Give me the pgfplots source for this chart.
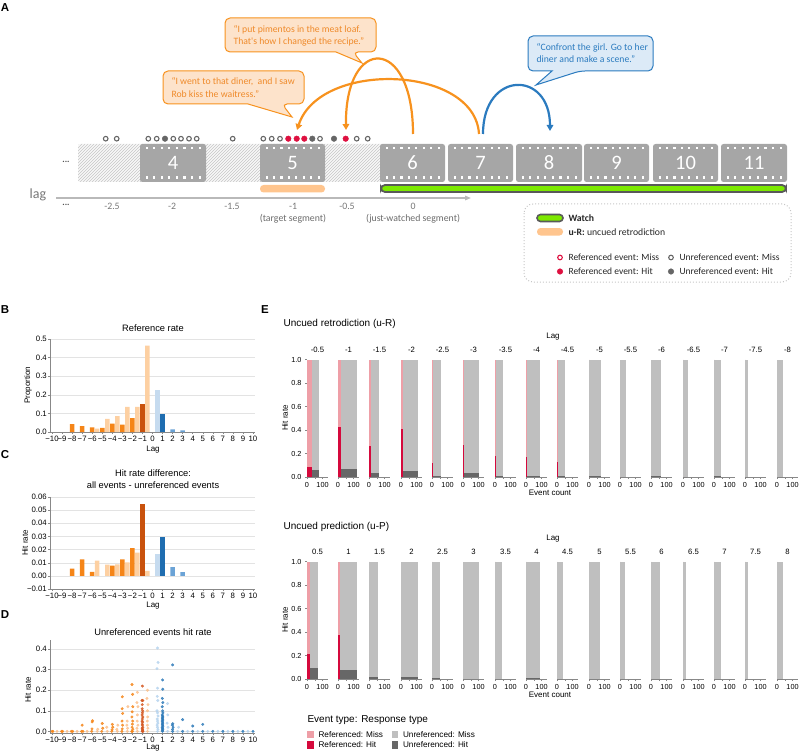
\documentclass[border=0pt]{standalone}
\usepackage{pgfplots}
\pgfplotsset{compat=1.18}
\usepackage{fontspec}
\setmainfont{Liberation Sans}
\newfontfamily\cali{Carlito}
\usetikzlibrary{patterns,arrows.meta}

\definecolor{axgray}{HTML}{888888}
\definecolor{gridgray}{HTML}{E3E3E3}
\definecolor{oint}{HTML}{F58518}
\definecolor{odark}{HTML}{C9520D}
\definecolor{olight}{HTML}{FDD0A2}
\definecolor{blight}{HTML}{C6DBEF}
\definecolor{bdark}{HTML}{1F6DB0}
\definecolor{bmid}{HTML}{6BA3D6}
\definecolor{dodark}{HTML}{D4561F}
\definecolor{dolight}{HTML}{FBC08C}
\definecolor{dblight}{HTML}{B5D3EE}
\definecolor{dblue}{HTML}{2C79B8}
\definecolor{refmiss}{HTML}{EE9FA7}
\definecolor{refhit}{HTML}{D5093C}
\definecolor{unmiss}{HTML}{BFBFBF}
\definecolor{unhit}{HTML}{676767}
\definecolor{framegray}{HTML}{A6A6A6}
\definecolor{lime}{HTML}{7CE800}
\definecolor{peach}{HTML}{FFC58E}
\definecolor{aorange}{HTML}{F7921E}
\definecolor{cofill}{HTML}{FDE3CB}
\definecolor{cotext}{HTML}{EF8A2A}
\definecolor{ablue}{HTML}{2B7BBF}
\definecolor{cbfill}{HTML}{DCEAF7}
\definecolor{evgray}{HTML}{666666}
\definecolor{evred}{HTML}{DE1040}
\definecolor{lagray}{HTML}{777777}

\newcommand{\fsz}[1]{\fontsize{#1}{#1}\selectfont}

\pgfplotsset{
  vbase/.style={scale only axis, anchor=south west, axis lines*=left,
    axis line style={draw=axgray, line width=0.5pt}, tick align=outside,
    major tick length=2pt, minor tick length=1.5pt,
    tick style={draw=axgray, line width=0.4pt},
    tick label style={font=\fsz{7.8pt}},
    /pgf/number format/assume math mode=true, clip=false},
  bcd/.style={vbase, width=205pt, xmin=-10.2, xmax=10.2, xtick={-10,...,10},
    xticklabels={−10,−9,−8,−7,−6,−5,−4,−3,−2,−1,0,1,2,3,4,5,6,7,8,9,10},
    ymajorgrids, grid style={draw=gridgray, line width=0.4pt},
    xticklabel style={inner xsep=0pt, yshift=1pt}, yticklabel style={inner xsep=1pt},
    scaled y ticks=false},
  bb/.style={ybar, bar width=4.5pt, bar shift=0pt, draw=none},
  dm/.style={only marks, mark=*, mark size=1.3pt, color=#1, opacity=0.8},
  ep/.style={vbase, width=21pt, height=117.5pt, xmin=0, xmax=135, ymin=0, ymax=1,
    xtick={0,100}, minor xtick={50}, ytick=\empty,
    tick label style={font=\fsz{7.3pt}},
    y axis line style={draw=none}},
  epy/.style={ytick={0,0.2,0.4,0.6,0.8,1}, y axis line style={draw=axgray},
    yticklabel style={/pgf/number format/.cd, fixed, fixed zerofill, precision=1}},
}

% left, bottom, lag label, n referenced, referenced hit rate, total count, unreferenced hit rate, options
\newcommand{\EP}[8]{%
  \begin{axis}[ep, at={(#1pt,-#2pt)}, #8]
    \addplot[fill=refmiss, draw=none] coordinates {(0,1) (#4,1)} \closedcycle;
    \addplot[fill=refhit, draw=none] coordinates {(0,#5) (#4,#5)} \closedcycle;
    \addplot[fill=unmiss, draw=none] coordinates {(#4,1) (#6,1)} \closedcycle;
    \addplot[fill=unhit, draw=none] coordinates {(#4,#7) (#6,#7)} \closedcycle;
    \node[font=\fsz{7.7pt}, anchor=base, yshift=7pt] at (rel axis cs:0.5,1) {#3};
  \end{axis}}

\begin{document}
\begin{tikzpicture}
\useasboundingbox (0,0) rectangle (800pt,-754pt);

% ================= PANEL A schematic =================
\begin{scope}[x=1pt, y=-1pt]
  % hatched band
  \fill[gray!5, rounded corners=2pt] (78,144) rectangle (385,182);
  \fill[pattern=north east lines, pattern color=gray!45, rounded corners=2pt] (78,144) rectangle (385,182);
  % frames
  \foreach \a/\b/\n in {140/206/4, 260/325/5, 380/445/6, 448/513/7, 516/582/8, 584/649/9, 653/718/10, 721/787/11}{
    \fill[framegray, rounded corners=2.5pt] (\a,144) rectangle (\b,182);
    \foreach \k in {0,...,7}{
      \fill[white] ({\a+5.5+\k*(\b-\a-13)/7},147.3) rectangle +(2.2,2.2);
      \fill[white] ({\a+5.5+\k*(\b-\a-13)/7},176.5) rectangle +(2.2,2.2);
    }
    \node[white, font=\cali\fsz{20.5pt}] at ({(\a+\b)/2},163) {\n};
  }
  % watch bar and u-R bar
  \draw[draw=black!65, fill=lime, line width=1.8pt, rounded corners=4pt] (381,185) rectangle (786,192);
  \fill[peach, rounded corners=3.5pt] (260,185) rectangle (325,192.5);
  % lag axis
  \draw[gray!55, line width=1.3pt, -{Triangle[length=6pt,width=4.5pt]}] (56,198) -- (471,198);
  \node[lagray, font=\cali\fsz{14pt}] at (38,195) {lag};
  \node[black!70, font=\cali\bfseries\fsz{9pt}] at (66,205) {...};
  \node[black!70, font=\cali\bfseries\fsz{9pt}] at (66,162) {...};
  \foreach \x/\t in {112/-2.5, 172/-2, 232/-1.5, 293/-1, 347/-0.5, 413/0}{
    \node[lagray, font=\cali\fsz{9.8pt}] at (\x,206.5) {\t};
  }
  \node[lagray!90!black, font=\cali\fsz{9.8pt}] at (293,219) {(target segment)};
  \node[lagray!90!black, font=\cali\fsz{9.8pt}] at (413,219) {(just-watched segment)};
  % callouts
  \draw[aorange, fill=cofill, line width=1pt] (225,35) [rounded corners=5pt] -- (225,18) -- (376,18) -- (376,52) -- (353,52) [sharp corners] -- (362,63) -- (336,52) [rounded corners=5pt] -- (225,52) -- cycle;
  \node[cotext, font=\cali\fsz{9.7pt}, anchor=west] at (230,29.5) {“I put pimentos in the meat loaf.};
  \node[cotext, font=\cali\fsz{9.7pt}, anchor=west] at (230,41.5) {That's how I changed the recipe.”};
  \draw[aorange, fill=cofill, line width=1pt] (163,88) [rounded corners=5pt] -- (163,71) -- (304,71) -- (304,104) -- (282,104) [sharp corners] -- (292,117) -- (248,104) [rounded corners=5pt] -- (163,104) -- cycle;
  \node[cotext, font=\cali\fsz{9.7pt}, anchor=west] at (168,82) {“I went to that diner,\ \ and I saw};
  \node[cotext, font=\cali\fsz{9.7pt}, anchor=west] at (168,94) {Rob kiss the waitress.”};
  \draw[ablue, fill=cbfill, line width=1pt] (528,53) [rounded corners=5pt] -- (528,36) -- (653,36) -- (653,71) -- (580,71) [sharp corners] -- (536,85) -- (552,71) [rounded corners=5pt] -- (528,71) -- cycle;
  \node[ablue, font=\cali\fsz{9.7pt}, anchor=west] at (533,47.5) {“Confront the girl. Go to her};
  \node[ablue, font=\cali\fsz{9.7pt}, anchor=west] at (533,59.5) {diner and make a scene.”};
  % arcs
  \draw[aorange, line width=2.2pt, -{Triangle[length=6pt,width=6.5pt]}] (479,134) .. controls (475,65) and (320,60) .. (297,130);
  \draw[aorange, line width=2.2pt, -{Triangle[length=6pt,width=6.5pt]}] (413,134) .. controls (413,35) and (345,35) .. (346,130);
  \draw[ablue, line width=2.2pt, -{Triangle[length=6pt,width=6.5pt]}] (483,134) .. controls (483,70) and (550,70) .. (550,131);
  % legend box
  \draw[gray!45, line width=1pt, dotted, rounded corners=9pt] (524,204) rectangle (791,282);
  \draw[draw=black!65, fill=lime, line width=1.6pt, rounded corners=3.5pt] (537,214.5) rectangle (563,221.5);
  \fill[peach, rounded corners=3.5pt] (537,228) rectangle (563,235.5);
  \node[black!85, font=\cali\bfseries\fsz{9.7pt}, anchor=west] at (565,218) {Watch};
  \node[black!85, font=\cali\fsz{9.7pt}, anchor=west] at (565,232) {\textbf{u-R:} uncued retrodiction};
  \node[black!85, font=\cali\fsz{9.5pt}, anchor=west] at (565,257.5) {Referenced event: Miss};
  \node[black!85, font=\cali\fsz{9.5pt}, anchor=west] at (565,271.5) {Referenced event: Hit};
  \node[black!85, font=\cali\fsz{9.5pt}, anchor=west] at (676,257.5) {Unreferenced event: Miss};
  \node[black!85, font=\cali\fsz{9.5pt}, anchor=west] at (676,271.5) {Unreferenced event: Hit};

  % ============ panel letters and texts ============
  \node[font=\bfseries\fsz{11.5pt}] at (5,8) {A};
  \node[font=\bfseries\fsz{11.5pt}] at (5,310) {B};
  \node[font=\bfseries\fsz{11.5pt}] at (5,455) {C};
  \node[font=\bfseries\fsz{11.5pt}] at (5,615) {D};
  \node[font=\bfseries\fsz{11.5pt}] at (265,310) {E};

  \node[font=\fsz{9.3pt}] at (153,328) {Reference rate};
  \node[font=\fsz{8pt}, rotate=90] at (28,385) {Proportion};
  \node[font=\fsz{8pt}] at (153,450) {Lag};
  \node[font=\fsz{9.3pt}] at (153,473.5) {Hit rate difference:};
  \node[font=\fsz{9.3pt}] at (153,485) {all events - unreferenced events};
  \node[font=\fsz{8pt}, rotate=90] at (25,543) {Hit rate};
  \node[font=\fsz{8pt}] at (153,606) {Lag};
  \node[font=\fsz{9.3pt}] at (153,632) {Unreferenced events hit rate};
  \node[font=\fsz{8pt}, rotate=90] at (28,690) {Hit rate};
  \node[font=\fsz{8pt}] at (153,748) {Lag};

  \node[font=\fsz{10pt}, anchor=west] at (280,324) {Uncued retrodiction (u-R)};
  \node[font=\fsz{8pt}] at (553,337) {Lag};
  \node[font=\fsz{8pt}, rotate=90] at (285,418) {Hit rate};
  \node[font=\fsz{8pt}] at (550,493) {Event count};
  \node[font=\fsz{10pt}, anchor=west] at (280,527) {Uncued prediction (u-P)};
  \node[font=\fsz{8pt}] at (553,539) {Lag};
  \node[font=\fsz{8pt}, rotate=90] at (285,620) {Hit rate};
  \node[font=\fsz{8pt}] at (550,695) {Event count};

  % E legend
  \node[font=\fsz{10pt}, anchor=west] at (304,720) {Event type: Response type};
  \fill[refmiss] (307,730.5) rectangle (313.5,738);
  \fill[refhit] (307,741) rectangle (313.5,748.5);
  \fill[unmiss] (391.5,730.5) rectangle (398,738);
  \fill[unhit] (391.5,741) rectangle (398,748.5);
  \node[font=\fsz{8.2pt}, anchor=west] at (315,734.3) {Referenced: Miss};
  \node[font=\fsz{8.2pt}, anchor=west] at (315,744.8) {Referenced: Hit};
  \node[font=\fsz{8.2pt}, anchor=west] at (399.5,734.3) {Unreferenced: Miss};
  \node[font=\fsz{8.2pt}, anchor=west] at (399.5,744.8) {Unreferenced: Hit};
\end{scope}

% ================= Panel A event markers (through an axis in pixel units) =================
\begin{axis}[at={(0pt,0pt)}, anchor=north west, scale only axis, width=800pt, height=754pt,
  xmin=0, xmax=800, ymin=0, ymax=754, y dir=reverse, hide axis, clip=false]
  \addplot[only marks, mark=*, mark size=2.3pt, mark options={draw=evgray, line width=1.1pt, fill=white}]
    coordinates {(105.7,138.7) (116.7,138.7) (148.3,138.7) (156.7,138.7) (173.3,138.7) (181,138.7)
      (189,138.7) (196.7,138.7) (232.7,138.7) (263.3,138.7) (271.7,138.7) (280,138.7) (320,138.7)
      (356.7,138.7) (367.7,138.7) (671,257.5)};
  \addplot[only marks, mark=*, mark size=2.8pt, color=evgray]
    coordinates {(165,138.7) (312.3,138.7) (334,138.7) (671,271.5)};
  \addplot[only marks, mark=*, mark size=2.8pt, color=evred]
    coordinates {(288.3,138.7) (296.7,138.7) (304.3,138.7) (345.7,138.7) (560,271.5)};
  \addplot[only marks, mark=*, mark size=2.3pt, mark options={draw=evred, line width=1.1pt, fill=white}]
    coordinates {(560,257.5)};
\end{axis}

% ================= Panel B =================
\begin{axis}[bcd, at={(50pt,-432pt)}, height=93pt, ymin=0, ymax=0.5,
  ytick={0,0.1,0.2,0.3,0.4,0.5},
  yticklabel style={/pgf/number format/.cd, fixed, fixed zerofill, precision=1}]
  \addplot[bb, fill=oint] coordinates {(-8,0.042) (-7,0.031) (-6,0.025) (-5,0.022) (-4,0.045) (-3,0.040) (-2,0.074)};
  \addplot[bb, fill=odark] coordinates {(-1,0.150)};
  \addplot[bb, fill=olight] coordinates {(-5.5,0.018) (-4.5,0.070) (-3.5,0.085) (-2.5,0.135) (-1.5,0.135) (-0.5,0.464)};
  \addplot[bb, fill=blight] coordinates {(0.5,0.226)};
  \addplot[bb, fill=bdark] coordinates {(1,0.097)};
  \addplot[bb, fill=bmid] coordinates {(2,0.014) (3,0.009)};
\end{axis}

% ================= Panel C =================
\begin{axis}[bcd, at={(50pt,-589pt)}, height=92pt, ymin=-0.01, ymax=0.06,
  ytick={-0.01,0,0.01,0.02,0.03,0.04,0.05,0.06},
  yticklabels={−0.01,0.00,0.01,0.02,0.03,0.04,0.05,0.06}]
  \addplot[bb, fill=oint] coordinates {(-8,0.0055) (-7,0.0125) (-6,0.003) (-4,0.0077) (-3,0.0125) (-2,0.0212)};
  \addplot[bb, fill=odark] coordinates {(-1,0.0543)};
  \addplot[bb, fill=olight] coordinates {(-5.5,0.0115) (-4.5,0.0085) (-3.5,0.0087) (-2.5,0.0102) (-1.5,0.0176) (-0.5,0.0038)};
  \addplot[bb, fill=blight] coordinates {(0.5,0.0168)};
  \addplot[bb, fill=bdark] coordinates {(1,0.0293)};
  \addplot[bb, fill=bmid] coordinates {(2,0.0066) (3,0.0028)};
\end{axis}

% ================= Panel D =================
\begin{axis}[bcd, at={(50pt,-733pt)}, height=93pt, ymin=-0.008, ymax=0.444,
  ytick={0,0.1,0.2,0.3,0.4},
  yticklabel style={/pgf/number format/.cd, fixed, fixed zerofill, precision=1}]
  \addplot[dm=dolight] coordinates {(-9.5,0) (-8.5,0) (-7.5,0) (-6.5,0) (-5.5,0) (-5.45,0.01) (-4.5,0) (-4.55,0.02) (-3.5,0) (-3.45,0.03) (-3.55,0.01) (-2.5,0) (-2.45,0.12) (-2.52,0.05) (-2.55,0.03) (-2.48,0.015) (-1.5,0.19) (-1.55,0.14) (-1.45,0.12) (-1.5,0.08) (-1.52,0.05) (-1.45,0.03) (-1.55,0.015) (-1.5,0) (-0.5,0.2) (-0.55,0.16) (-0.45,0.13) (-0.5,0.1) (-0.48,0.07) (-0.52,0.05) (-0.5,0.03) (-0.46,0.015) (-0.5,0)};
  \addplot[dm=dblight] coordinates {(0.5,0.405) (0.55,0.335) (0.45,0.305) (0.5,0.21) (0.47,0.17) (0.53,0.15) (0.45,0.1) (0.5,0.09) (0.55,0.075) (0.47,0.06) (0.5,0.05) (0.53,0.04) (0.46,0.03) (0.5,0.02) (0.54,0.01) (0.5,0) (1.5,0.135) (1.52,0.08) (1.45,0.04) (1.55,0.02) (1.5,0) (2.5,0) (2.6,0.02) (3.5,0) (4.5,0) (5.5,0) (6.5,0) (7.5,0) (8.5,0) (9.5,0)};
  \addplot[dm=oint] coordinates {(-10,0) (-9.92,0) (-9.05,0) (-8.95,0) (-8.08,0) (-7.95,0) (-7.05,0) (-7,0.03) (-6.92,0) (-6.05,0) (-6,0.046) (-5.97,0.052) (-6.02,0.012) (-5.05,0) (-5,0.038) (-4.95,0.015) (-4.05,0) (-4,0.034) (-3.96,0.02) (-4.02,0.008) (-3.05,0) (-3,0.168) (-3.02,0.11) (-2.97,0.087) (-3.03,0.05) (-2.98,0.03) (-3.01,0.012) (-2.06,0) (-2.04,0.228) (-1.98,0.18) (-1.96,0.12) (-2.02,0.095) (-2.05,0.07) (-1.97,0.05) (-2,0.035) (-2.03,0.02) (-1.96,0.01) (-2,0)};
  \addplot[dm=dodark] coordinates {(-1,0.22) (-1.04,0.15) (-0.97,0.15) (-1.02,0.13) (-1.03,0.11) (-0.98,0.1) (-1,0.09) (-1.03,0.08) (-0.97,0.07) (-1.01,0.06) (-1.04,0.05) (-0.98,0.045) (-1.02,0.035) (-1,0.03) (-0.97,0.02) (-1.03,0.015) (-1,0.01) (-0.98,0.005) (-1.02,0) (-0.96,0)};
  \addplot[dm=dblue] coordinates {(1,0.25) (1.02,0.205) (0.98,0.16) (1.03,0.14) (0.97,0.12) (1,0.1) (1.03,0.09) (0.97,0.08) (1,0.075) (1.02,0.07) (0.98,0.065) (1,0.06) (1.03,0.055) (0.97,0.05) (1,0.045) (1.02,0.04) (0.98,0.035) (1,0.03) (1.03,0.025) (0.97,0.02) (1,0.015) (1.02,0.01) (0.98,0.005) (1,0) (2,0.323) (2.02,0.037) (1.97,0.03) (2.05,0.02) (2,0.01) (2,0) (3,0.057) (3,0) (4,0.026) (4,0) (5,0.034) (5,0) (6,0) (7,0) (8,0) (9,0) (10,0)};
\end{axis}

% ================= Panel E: uncued retrodiction =================
\EP{307}{477}{-0.5}{32}{0.085}{75}{0.06}{epy}
\EP{338}{477}{-1}{21.5}{0.425}{124.5}{0.07}{}
\EP{369}{477}{-1.5}{11}{0.26}{63}{0.03}{}
\EP{401}{477}{-2}{11}{0.41}{112}{0.05}{}
\EP{432}{477}{-2.5}{6.5}{0.12}{58.5}{0.01}{}
\EP{463}{477}{-3}{6.5}{0.27}{101.5}{0.03}{}
\EP{495}{477}{-3.5}{6.5}{0.18}{51.5}{0.005}{}
\EP{526}{477}{-4}{6.5}{0.17}{88}{0.01}{}
\EP{557}{477}{-4.5}{4}{0.13}{49}{0.005}{}
\EP{589}{477}{-5}{0}{0}{75}{0.005}{}
\EP{620}{477}{-5.5}{2}{0}{41}{0}{}
\EP{651}{477}{-6}{2}{0.13}{64}{0.01}{}
\EP{683}{477}{-6.5}{0}{0}{30}{0}{}
\EP{714}{477}{-7}{0}{0}{47}{0.005}{}
\EP{745}{477}{-7.5}{0}{0}{21.5}{0}{}
\EP{777}{477}{-8}{2}{0.13}{39}{0}{}

% ================= Panel E: uncued prediction =================
\EP{307}{679}{0.5}{17}{0.215}{69}{0.096}{epy}
\EP{338}{679}{1}{11}{0.377}{125}{0.08}{}
\EP{369}{679}{1.5}{0}{0}{56}{0.02}{}
\EP{401}{679}{2}{1.5}{0.54}{111.5}{0.02}{}
\EP{432}{679}{2.5}{0}{0}{49.5}{0.01}{}
\EP{463}{679}{3}{1.5}{0.16}{100.5}{0}{}
\EP{495}{679}{3.5}{0}{0}{43}{0}{}
\EP{526}{679}{4}{0}{0}{88}{0.005}{}
\EP{557}{679}{4.5}{0}{0}{36.5}{0}{}
\EP{589}{679}{5}{0}{0}{69}{0}{}
\EP{620}{679}{5.5}{0}{0}{30}{0}{}
\EP{651}{679}{6}{0}{0}{60}{0}{}
\EP{683}{679}{6.5}{0}{0}{21.5}{0}{}
\EP{714}{679}{7}{0}{0}{45}{0}{}
\EP{745}{679}{7.5}{0}{0}{17}{0}{}
\EP{777}{679}{8}{0}{0}{39}{0}{}

\end{tikzpicture}
\end{document}
